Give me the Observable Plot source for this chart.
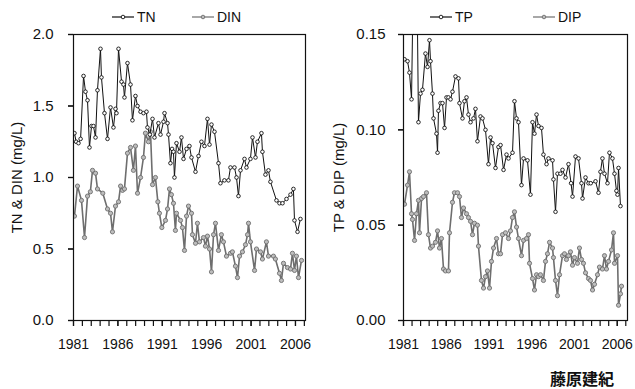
<!DOCTYPE html>
<html><head><meta charset="utf-8">
<script src="https://cdn.jsdelivr.net/npm/d3@7"></script>
<script src="https://cdn.jsdelivr.net/npm/@observablehq/plot@0.6"></script>
<style>
body{margin:0;background:#fff;font-family:"Liberation Sans",Arial,sans-serif;}
#wrap{position:relative;width:635px;height:389px;overflow:hidden;background:#fff;}
.panel{position:absolute;top:26px;}
.leg{position:absolute;top:9px;height:16px;display:flex;align-items:center;font-size:14px;color:#111;}
.leg svg{margin-right:3px;}
#caption{position:absolute;left:536px;top:370px;width:78px;text-align:right;font-family:"Noto Sans CJK JP",sans-serif;font-weight:bold;font-size:16px;line-height:17px;color:#111;}
</style></head>
<body><div id="wrap"></div>
<script>
// ---- data: [decimal year, value] ----
const tn = [[1981.11,1.31],[1981.3,1.25],[1981.56,1.24],[1981.8,1.27],[1982.13,1.71],[1982.35,1.6],[1982.58,1.54],[1982.8,1.21],[1983.03,1.36],[1983.25,1.36],[1983.48,1.28],[1983.7,1.61],[1984.04,1.9],[1984.15,1.7],[1984.49,1.45],[1984.83,1.27],[1985.17,1.49],[1985.5,1.35],[1985.73,1.48],[1985.84,1.45],[1986.07,1.9],[1986.41,1.67],[1986.63,1.65],[1986.74,1.56],[1987.08,1.8],[1987.42,1.65],[1987.64,1.4],[1987.98,1.57],[1988.21,1.5],[1988.55,1.46],[1988.88,1.45],[1989.22,1.46],[1989.33,1.35],[1989.6,1.3],[1989.9,1.41],[1990.12,1.28],[1990.57,1.38],[1990.8,1.3],[1991.14,1.39],[1991.25,1.45],[1991.59,1.38],[1991.7,1.3],[1991.92,1.1],[1992.1,1.2],[1992.26,1.18],[1992.37,1.0],[1992.6,1.24],[1992.94,1.18],[1993.16,1.28],[1993.39,1.13],[1993.73,1.2],[1994.06,1.22],[1994.29,1.14],[1994.74,1.04],[1995.08,1.15],[1995.41,1.25],[1995.75,1.22],[1996.09,1.41],[1996.32,1.23],[1996.54,1.37],[1996.88,1.32],[1997.33,1.1],[1997.55,0.96],[1998.0,0.98],[1998.45,0.98],[1998.68,1.07],[1999.13,1.07],[1999.36,1.0],[1999.58,0.87],[1999.81,1.05],[2000.26,1.13],[2000.48,1.07],[2000.93,1.13],[2001.16,1.28],[2001.5,1.14],[2001.72,1.25],[2002.17,1.31],[2002.28,1.18],[2002.62,1.02],[2002.96,1.05],[2003.18,0.97],[2003.86,0.84],[2004.2,0.82],[2004.54,0.82],[2004.99,0.85],[2005.44,0.88],[2005.77,0.92],[2005.89,0.7],[2006.23,0.62],[2006.56,0.71]];
const din = [[1981.11,0.73],[1981.45,0.94],[1981.9,0.84],[1982.24,0.58],[1982.58,0.87],[1982.9,0.9],[1983.14,1.05],[1983.48,1.03],[1983.7,0.92],[1984.3,0.89],[1984.83,0.78],[1985.17,0.75],[1985.39,0.62],[1985.73,0.8],[1986.07,0.83],[1986.3,0.94],[1986.52,0.91],[1986.74,0.92],[1987.08,1.17],[1987.42,1.21],[1987.75,1.05],[1987.98,1.22],[1988.21,0.89],[1988.55,1.0],[1988.88,1.14],[1989.1,1.31],[1989.44,1.25],[1989.67,1.32],[1989.9,0.95],[1990.23,1.0],[1990.5,0.83],[1990.68,0.75],[1990.95,0.65],[1991.36,0.7],[1991.59,0.78],[1991.81,0.92],[1992.03,0.88],[1992.26,0.82],[1992.48,0.63],[1992.6,0.75],[1993.05,0.7],[1993.27,0.65],[1993.5,0.49],[1993.73,0.73],[1993.95,0.8],[1994.29,0.75],[1994.4,0.6],[1994.74,0.54],[1994.96,0.68],[1995.19,0.55],[1995.64,0.58],[1995.86,0.52],[1996.09,0.59],[1996.32,0.5],[1996.54,0.34],[1996.77,0.6],[1996.99,0.68],[1997.33,0.49],[1997.66,0.6],[1997.89,0.55],[1998.23,0.45],[1998.68,0.47],[1998.9,0.48],[1999.24,0.38],[1999.47,0.3],[1999.7,0.45],[2000.03,0.48],[2000.37,0.53],[2000.6,0.6],[2000.71,0.68],[2000.93,0.55],[2001.39,0.35],[2001.61,0.5],[2002.06,0.48],[2002.28,0.43],[2002.73,0.55],[2002.96,0.45],[2003.52,0.45],[2003.74,0.43],[2004.2,0.33],[2004.42,0.28],[2004.65,0.4],[2005.1,0.37],[2005.44,0.36],[2005.66,0.47],[2005.89,0.35],[2006.11,0.45],[2006.34,0.3],[2006.68,0.42]];
const tp = [[1981.12,0.137],[1981.47,0.136],[1981.7,0.13],[1981.94,0.116],[1982.08,0.16],[1982.35,0.185],[1982.62,0.16],[1982.75,0.104],[1982.99,0.119],[1983.22,0.121],[1983.57,0.14],[1983.81,0.133],[1984.04,0.147],[1984.16,0.136],[1984.39,0.119],[1984.51,0.106],[1984.86,0.098],[1984.98,0.088],[1985.09,0.11],[1985.33,0.114],[1985.56,0.114],[1985.8,0.101],[1986.03,0.117],[1986.26,0.117],[1986.5,0.116],[1986.73,0.12],[1987.08,0.128],[1987.43,0.127],[1987.55,0.114],[1987.9,0.106],[1988.13,0.115],[1988.37,0.117],[1988.6,0.108],[1988.84,0.104],[1989.19,0.106],[1989.42,0.111],[1989.65,0.094],[1990.01,0.107],[1990.24,0.106],[1990.59,0.1],[1990.94,0.082],[1991.18,0.096],[1991.41,0.093],[1991.76,0.08],[1992.11,0.091],[1992.35,0.092],[1992.7,0.079],[1993.05,0.087],[1993.28,0.085],[1993.75,0.088],[1993.98,0.115],[1994.22,0.106],[1994.45,0.104],[1994.8,0.071],[1995.04,0.085],[1995.5,0.084],[1995.85,0.066],[1996.09,0.104],[1996.32,0.098],[1996.56,0.108],[1996.79,0.102],[1997.14,0.101],[1997.37,0.087],[1997.73,0.082],[1997.96,0.085],[1998.43,0.084],[1998.54,0.074],[1998.78,0.057],[1999.01,0.077],[1999.36,0.077],[1999.6,0.079],[1999.95,0.075],[2000.3,0.082],[2000.6,0.072],[2000.77,0.065],[2001.12,0.086],[2001.47,0.085],[2001.82,0.072],[2001.94,0.064],[2002.29,0.075],[2002.64,0.072],[2002.9,0.072],[2003.46,0.073],[2003.81,0.067],[2004.04,0.078],[2004.27,0.085],[2004.51,0.077],[2004.86,0.072],[2005.09,0.088],[2005.44,0.085],[2005.68,0.077],[2005.91,0.068],[2006.03,0.066],[2006.15,0.08],[2006.38,0.06]];
const dip = [[1981.12,0.061],[1981.47,0.071],[1981.7,0.078],[1981.94,0.056],[1982.05,0.053],[1982.29,0.042],[1982.52,0.056],[1982.75,0.063],[1982.87,0.046],[1983.11,0.064],[1983.34,0.065],[1983.69,0.067],[1983.92,0.045],[1984.16,0.038],[1984.39,0.039],[1984.74,0.041],[1984.98,0.047],[1985.21,0.038],[1985.44,0.043],[1985.68,0.027],[1985.91,0.026],[1986.26,0.026],[1986.38,0.046],[1986.73,0.062],[1986.96,0.067],[1987.32,0.067],[1987.55,0.065],[1987.78,0.054],[1988.02,0.059],[1988.37,0.056],[1988.6,0.054],[1988.84,0.052],[1989.07,0.045],[1989.3,0.051],[1989.65,0.05],[1989.77,0.039],[1990.12,0.021],[1990.36,0.017],[1990.59,0.023],[1990.82,0.026],[1991.06,0.017],[1991.29,0.031],[1991.53,0.038],[1991.88,0.043],[1992.11,0.035],[1992.35,0.035],[1992.58,0.045],[1992.93,0.046],[1993.28,0.043],[1993.51,0.047],[1993.75,0.054],[1993.98,0.057],[1994.22,0.049],[1994.45,0.043],[1994.8,0.034],[1995.04,0.042],[1995.39,0.043],[1995.62,0.045],[1995.74,0.03],[1996.09,0.022],[1996.32,0.016],[1996.56,0.024],[1996.79,0.023],[1997.02,0.024],[1997.37,0.021],[1997.61,0.031],[1997.84,0.035],[1998.08,0.041],[1998.43,0.038],[1998.54,0.033],[1998.78,0.021],[1999.01,0.013],[1999.25,0.024],[1999.6,0.034],[1999.83,0.035],[2000.06,0.032],[2000.3,0.034],[2000.53,0.036],[2000.77,0.029],[2001.0,0.033],[2001.35,0.03],[2001.58,0.038],[2001.82,0.032],[2002.05,0.03],[2002.29,0.025],[2002.64,0.022],[2002.87,0.021],[2003.11,0.016],[2003.34,0.019],[2003.69,0.024],[2003.92,0.028],[2004.27,0.027],[2004.51,0.034],[2004.74,0.027],[2004.98,0.031],[2005.33,0.037],[2005.56,0.046],[2005.68,0.03],[2006.03,0.034],[2006.15,0.008],[2006.38,0.014],[2006.5,0.018]];

const xTickLabels = [1981, 1986, 1991, 1996, 2001, 2006];
const xTickYears = d3.range(1981, 2008);
const leftYTicks = [0, 0.5, 1.0, 1.5, 2.0];
const rightYTicks = [0, 0.05, 0.10, 0.15];
const leftLabel = "TN & DIN (mg/L)";
const rightLabel = "TP & DIP (mg/L)";
const legendLeft = ["TN", "DIN"];
const legendRight = ["TP", "DIP"];

const DARK = "#111";
const GRAY = "#6e6e6e";

function seriesMarks(data, color, width, fill, r) {
  return [
    Plot.line(data, {x: d => d[0], y: d => d[1], stroke: color, strokeWidth: width, clip: true}),
    Plot.dot(data, {x: d => d[0], y: d => d[1], r, stroke: color, strokeWidth: 0.9, fill, clip: true})
  ];
}

function panel({width, marginLeft, marginRight, xDomain, yDomain, yTicks, yFormat, label, labelOffset, tickPadding, dark, gray}) {
  return Plot.plot({
    width, height: 326,
    marginLeft, marginRight, marginTop: 8, marginBottom: 32,
    style: {fontFamily: "'Liberation Sans', Arial, sans-serif", fontSize: "14px", color: DARK, background: "white", overflow: "visible"},
    x: {domain: xDomain},
    y: {domain: yDomain},
    marks: [
      ...seriesMarks(gray, GRAY, 1.6, "#bdbdbd", 2.1),
      ...seriesMarks(dark, DARK, 1, "white", 1.8),
      Plot.frame({stroke: DARK, strokeWidth: 1.2}),
      Plot.axisX({ticks: xTickYears, tickSize: 6, tickFormat: () => "", label: null, strokeWidth: 1.2}),
      Plot.axisX({ticks: xTickLabels, tickSize: 6, tickPadding: 13, tickFormat: d => String(d), label: null, strokeWidth: 1.2}),
      Plot.axisY({ticks: yTicks, tickSize: 5, tickPadding, tickFormat: yFormat, label, labelAnchor: "center", labelArrow: "none", labelOffset, fontSize: 15, strokeWidth: 1.2}),
      Plot.axisY({ticks: yTicks, tickSize: 5, tickFormat: () => "", label: null, strokeWidth: 1.2})
    ]
  });
}

const wrap = document.getElementById("wrap");

const left = panel({width: 318, marginLeft: 73, marginRight: 13, xDomain: [1981, 2007.13], yDomain: [0, 2],
  yTicks: leftYTicks, yFormat: d3.format(".1f"), label: leftLabel, labelOffset: 62, tickPadding: 15, dark: tn, gray: din});
left.classList.add("panel"); left.style.left = "0px";
wrap.appendChild(left);

const right = panel({width: 317, marginLeft: 85, marginRight: 8, xDomain: [1981, 2007.2], yDomain: [0, 0.15],
  yTicks: rightYTicks, yFormat: d3.format(".2f"), label: rightLabel, labelOffset: 70, tickPadding: 13, dark: tp, gray: dip});
right.classList.add("panel"); right.style.left = "318px";
wrap.appendChild(right);

function legendItem(name, color, fill, x) {
  const d = document.createElement("div");
  d.className = "leg";
  d.style.left = x + "px";
  d.innerHTML = `<svg width="22" height="10"><line x1="0" y1="5" x2="22" y2="5" stroke="${color}" stroke-width="1.2"/><circle cx="11" cy="5" r="1.8" stroke="${color}" fill="${fill}" stroke-width="0.9"/></svg><span>${name}</span>`;
  wrap.appendChild(d);
}
legendItem(legendLeft[0], DARK, "white", 112);
legendItem(legendLeft[1], GRAY, "#bdbdbd", 192);
legendItem(legendRight[0], DARK, "white", 430);
legendItem(legendRight[1], GRAY, "#bdbdbd", 533);

const cap = document.createElement("div");
cap.id = "caption";
cap.textContent = "藤原建紀";
wrap.appendChild(cap);
</script>
</body></html>
